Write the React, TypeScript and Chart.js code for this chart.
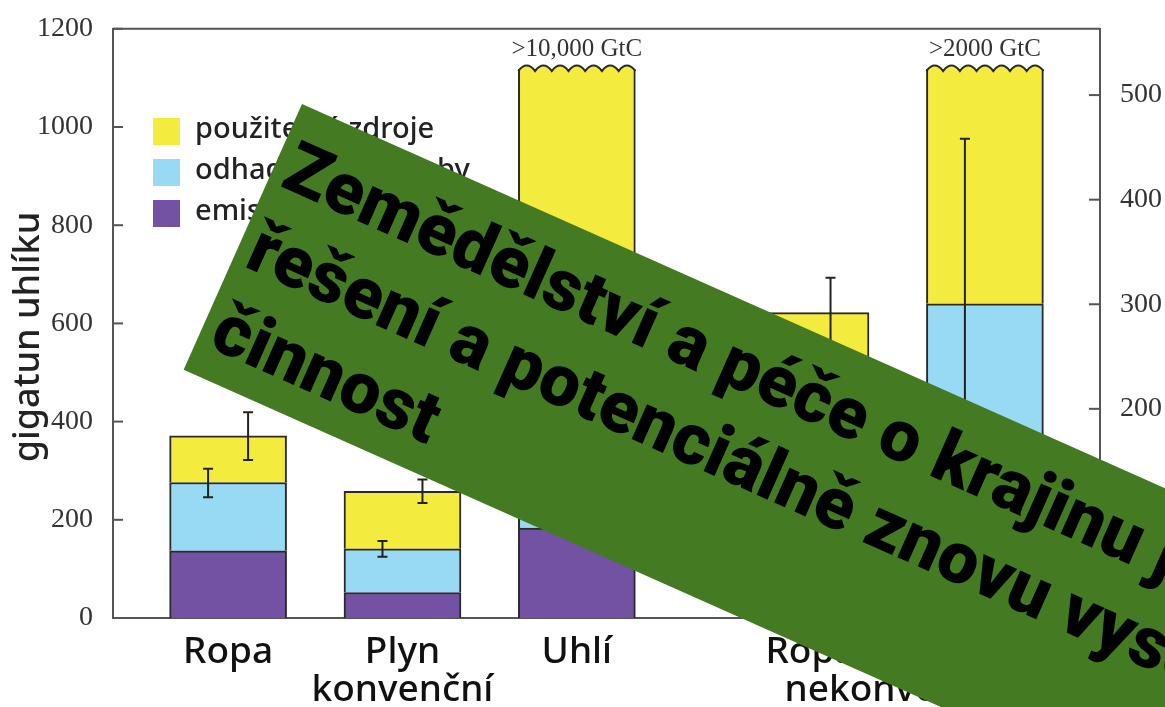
import React, { useEffect, useRef } from "react";
import { Chart, registerables } from "chart.js";
Chart.register(...registerables);

// ---- data ----
const xPositions = [0.66, 1.66, 2.66, 4.0, 5.0];
const tickPositions = [0.66, 1.66, 2.66, 4.0, 4.5, 5.0];
const tickLabels: string[][] = [["Ropa"], ["Plyn", "konvenční"], ["Uhlí"], ["Ropa"], ["", "nekonvenční"], ["Plyn"]];
const seriesLabels = ["emise", "odhadované zásoby", "použitelné zdroje"];
const emise = [137, 52, 183, null, null];
const zasoby = [139, 89, 440, null, 640];
const zdroje = [95, 117, 495, 622, 478];
const breakLabels = ["", "", ">10,000 GtC", "", ">2000 GtC"];
const errDataset = [1, 2, 1, 2, 2, 1];
const errCategory = [0, 0, 1, 1, 3, 4];
const errLow = [246, 322, 125, 234, 552, 304];
const errHigh = [304, 419, 157, 282, 693, 976];
const leftMax = 1200;
const leftStep = 200;
const gtcPerPpm = 2.13;
const rightStep = 100;
const axisTitle = "gigatun uhlíku";
const bannerLines = ["Zemědělství a péče o krajinu jsou", "řešení a potenciálně znovu vysoce ceněná", "činnost"];

// ---- styles ----
const colors = ["#7352a4", "#98d9f4", "#f3eb3e"];
const edge = "#2a2a2a";
const axisColor = "#555";
const serif = "'Liberation Serif', 'DejaVu Serif', serif";
const sans = "'Noto Sans', 'Open Sans', sans-serif";

const decorPlugin = {
  id: "decor",
  afterDatasetsDraw(chart: any) {
    const { ctx, chartArea, scales } = chart;
    const xs = scales.x, ys = scales.y, y2 = scales.y2;
    ctx.save();
    ctx.strokeStyle = axisColor;
    ctx.lineWidth = 2;
    ctx.beginPath();
    ctx.moveTo(chartArea.left, chartArea.top);
    ctx.lineTo(chartArea.right, chartArea.top);
    ctx.stroke();
    ys.ticks.forEach((t: any) => {
      const py = ys.getPixelForValue(t.value);
      ctx.beginPath();
      ctx.moveTo(chartArea.left, py);
      ctx.lineTo(chartArea.left + 10, py);
      ctx.stroke();
    });
    y2.ticks.forEach((t: any) => {
      const py = y2.getPixelForValue(t.value);
      ctx.beginPath();
      ctx.moveTo(chartArea.right - 11, py);
      ctx.lineTo(chartArea.right, py);
      ctx.stroke();
    });
    const meta = chart.getDatasetMeta(2);
    breakLabels.forEach((lab, i) => {
      if (!lab) return;
      const bar: any = meta.data[i];
      const p = bar.getProps(["x", "y", "width"], true);
      const left = p.x - p.width / 2;
      const right = p.x + p.width / 2;
      const top = p.y;
      const n = 7;
      const seg = (right - left) / n;
      const wave = () => {
        ctx.beginPath();
        ctx.moveTo(left, top + 2);
        for (let k = 0; k < n; k++) {
          ctx.quadraticCurveTo(left + seg * (k + 0.5), top - 9, left + seg * (k + 1), top + 2);
        }
      };
      wave();
      ctx.closePath();
      ctx.fillStyle = colors[2];
      ctx.fill();
      wave();
      ctx.strokeStyle = edge;
      ctx.lineWidth = 2;
      ctx.stroke();
      ctx.fillStyle = "#333";
      ctx.font = `25px ${serif}`;
      ctx.textAlign = "center";
      ctx.textBaseline = "middle";
      ctx.fillText(lab, p.x, top - 20);
    });
    ctx.strokeStyle = "#222";
    ctx.lineWidth = 2;
    errLow.forEach((lo, i) => {
      const off = errDataset[i] === 1 ? -20 : 20;
      const px = xs.getPixelForValue(xPositions[errCategory[i]]) + off;
      const a = ys.getPixelForValue(lo);
      const b = ys.getPixelForValue(errHigh[i]);
      ctx.beginPath();
      ctx.moveTo(px, a);
      ctx.lineTo(px, b);
      ctx.moveTo(px - 5, a);
      ctx.lineTo(px + 5, a);
      ctx.moveTo(px - 5, b);
      ctx.lineTo(px + 5, b);
      ctx.stroke();
    });
    ctx.restore();
  },
  afterDraw(chart: any) {
    const { ctx } = chart;
    ctx.save();
    const order = [2, 1, 0];
    order.forEach((di, r) => {
      const ds = chart.data.datasets[di];
      const top = 118 + r * 41;
      ctx.fillStyle = ds.backgroundColor;
      ctx.fillRect(153, top, 27, 27);
      ctx.fillStyle = "#222";
      ctx.font = `500 29px ${sans}`;
      ctx.textAlign = "left";
      ctx.textBaseline = "middle";
      ctx.fillText(ds.label, 195, top + 12);
    });
    ctx.save();
    ctx.translate(29, 337);
    ctx.rotate(-Math.PI / 2);
    ctx.fillStyle = "#222";
    ctx.font = `500 36px ${sans}`;
    ctx.textAlign = "center";
    ctx.textBaseline = "middle";
    ctx.fillText(axisTitle, 0, 0);
    ctx.restore();
    ctx.translate(302, 104);
    ctx.rotate((24 * Math.PI) / 180);
    ctx.fillStyle = "#437a22";
    ctx.fillRect(0, 0, 1600, 291);
    ctx.fillStyle = "#000";
    ctx.font = `900 72px Roboto, 'Noto Sans', sans-serif`;
    ctx.textAlign = "left";
    ctx.textBaseline = "alphabetic";
    bannerLines.forEach((line, i) => {
      ctx.fillText(line, 12, 84 + i * 88);
    });
    ctx.restore();
  },
};

export default function App() {
  const ref = useRef<HTMLCanvasElement | null>(null);
  useEffect(() => {
    document.body.style.margin = "0";
    const mk = (vals: (number | null)[]) => vals.map((v, i) => ({ x: xPositions[i], y: v }));
    const chart = new Chart(ref.current as HTMLCanvasElement, {
      type: "bar",
      data: {
        datasets: [
          { label: seriesLabels[0], data: mk(emise), backgroundColor: colors[0] },
          { label: seriesLabels[1], data: mk(zasoby), backgroundColor: colors[1] },
          { label: seriesLabels[2], data: mk(zdroje), backgroundColor: colors[2] },
        ].map((d) => ({
          ...d,
          borderColor: edge,
          borderWidth: (c: any) =>
            c.datasetIndex === 2 && breakLabels[c.dataIndex] ? { top: 0, left: 2, right: 2, bottom: 0 } : 2,
          borderSkipped: "start",
          barThickness: 117,
          yAxisID: "y",
        })) as any,
      },
      options: {
        animation: false,
        responsive: false,
        devicePixelRatio: 1,
        layout: { padding: { top: 22, left: 0, right: 0, bottom: 0 } },
        plugins: { legend: { display: false }, tooltip: { enabled: false } },
        scales: {
          x: {
            type: "linear",
            min: 0,
            max: 5.66,
            offset: false,
            stacked: true,
            grid: { display: false, offset: false },
            border: { display: true, color: axisColor, width: 2 },
            afterBuildTicks: (s: any) => {
              s.ticks = tickPositions.map((v) => ({ value: v }));
            },
            afterFit: (s: any) => {
              s.height = 89;
            },
            ticks: {
              autoSkip: false,
              maxRotation: 0,
              padding: 8,
              color: "#111",
              font: { family: "'Noto Sans', sans-serif", size: 37, weight: "500", lineHeight: 1.02 },
              callback: (_v: any, i: number) => tickLabels[i],
            },
          },
          y: {
            type: "linear",
            position: "left",
            min: 0,
            max: leftMax,
            stacked: true,
            grid: { display: false },
            border: { display: true, color: axisColor, width: 2 },
            afterFit: (s: any) => {
              s.width = 113;
            },
            ticks: {
              stepSize: leftStep,
              padding: 12,
              color: "#333",
              font: { family: serif, size: 28 },
              callback: (v: any) => String(v),
            },
          },
          y2: {
            type: "linear",
            position: "right",
            min: 0,
            max: leftMax / gtcPerPpm,
            grid: { display: false },
            border: { display: true, color: axisColor, width: 2 },
            afterFit: (s: any) => {
              s.width = 65;
            },
            ticks: {
              stepSize: rightStep,
              includeBounds: false,
              padding: 12,
              color: "#333",
              font: { family: serif, size: 28 },
              callback: (v: any) => String(v),
            },
          },
        },
      },
      plugins: [decorPlugin],
    } as any);
    return () => chart.destroy();
  }, []);
  return (
    <div style={{ width: 1165, height: 707, background: "#fff" }}>
      <canvas ref={ref} width={1165} height={707} />
    </div>
  );
}
